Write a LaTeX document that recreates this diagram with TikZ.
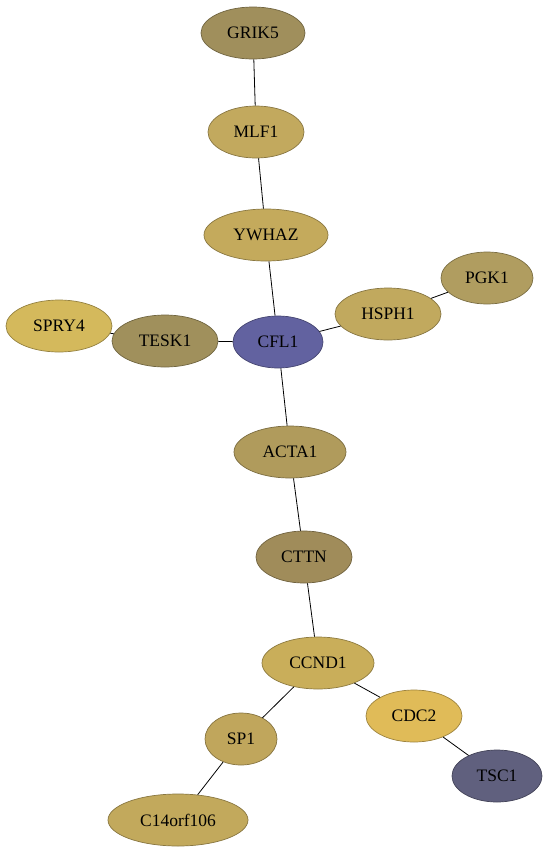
\documentclass[tikz,border=0pt]{standalone}
\usepackage{fontspec}
\setmainfont{Liberation Serif}
\usetikzlibrary{shapes.geometric}
\definecolor{cGRIK5}{HTML}{A08F5C}
\definecolor{cMLF1}{HTML}{C2A95E}
\definecolor{cYWHAZ}{HTML}{C4AA5C}
\definecolor{cPGK1}{HTML}{B09D60}
\definecolor{cHSPH1}{HTML}{C1A95E}
\definecolor{cSPRY4}{HTML}{D4B95C}
\definecolor{cTESK1}{HTML}{A0905C}
\definecolor{cCFL1}{HTML}{6262A0}
\definecolor{cACTA1}{HTML}{B09B5C}
\definecolor{cCTTN}{HTML}{A08C5A}
\definecolor{cCCND1}{HTML}{C9AE5A}
\definecolor{cCDC2}{HTML}{E0BB58}
\definecolor{cSP1}{HTML}{C0A65C}
\definecolor{cTSC1}{HTML}{60607E}
\definecolor{cC14}{HTML}{C2A95C}
\tikzset{
  gene/.style={ellipse, fill=#1, draw=#1!70!black, line width=0.7pt,
    minimum height=52pt, inner sep=0pt, font=\fontsize{17.5}{20}\selectfont},
  edge/.style={draw=black, line width=0.8pt}
}
\begin{document}
\begin{tikzpicture}[x=1pt,y=-1pt]
\useasboundingbox (0,0) rectangle (549,855);
\node[gene=cGRIK5, minimum width=104pt] (GRIK5) at (253,33) {GRIK5};
\node[gene=cMLF1, minimum width=96pt] (MLF1) at (256,132) {MLF1};
\node[gene=cYWHAZ, minimum width=124pt] (YWHAZ) at (266,235) {YWHAZ};
\node[gene=cPGK1, minimum width=92pt] (PGK1) at (487,278) {PGK1};
\node[gene=cHSPH1, minimum width=106pt] (HSPH1) at (388,314) {HSPH1};
\node[gene=cSPRY4, minimum width=106pt] (SPRY4) at (59,326) {SPRY4};
\node[gene=cTESK1, minimum width=106pt] (TESK1) at (165,341) {TESK1};
\node[gene=cCFL1, minimum width=90pt] (CFL1) at (278,342) {CFL1};
\node[gene=cACTA1, minimum width=112pt] (ACTA1) at (290,452) {ACTA1};
\node[gene=cCTTN, minimum width=96pt] (CTTN) at (304,557) {CTTN};
\node[gene=cCCND1, minimum width=112pt] (CCND1) at (318,663) {CCND1};
\node[gene=cCDC2, minimum width=96pt] (CDC2) at (414,716) {CDC2};
\node[gene=cSP1, minimum width=72pt] (SP1) at (241,739) {SP1};
\node[gene=cTSC1, minimum width=90pt] (TSC1) at (497,776) {TSC1};
\node[gene=cC14, minimum width=140pt] (C14) at (178,820) {C14orf106};
\draw[edge] (GRIK5) -- (MLF1);
\draw[edge] (MLF1) -- (YWHAZ);
\draw[edge] (YWHAZ) -- (CFL1);
\draw[edge] (PGK1) -- (HSPH1);
\draw[edge] (HSPH1) -- (CFL1);
\draw[edge] (SPRY4) -- (TESK1);
\draw[edge] (TESK1) -- (CFL1);
\draw[edge] (CFL1) -- (ACTA1);
\draw[edge] (ACTA1) -- (CTTN);
\draw[edge] (CTTN) -- (CCND1);
\draw[edge] (CCND1) -- (CDC2);
\draw[edge] (CCND1) -- (SP1);
\draw[edge] (CDC2) -- (TSC1);
\draw[edge] (SP1) -- (C14);
\end{tikzpicture}
\end{document}
